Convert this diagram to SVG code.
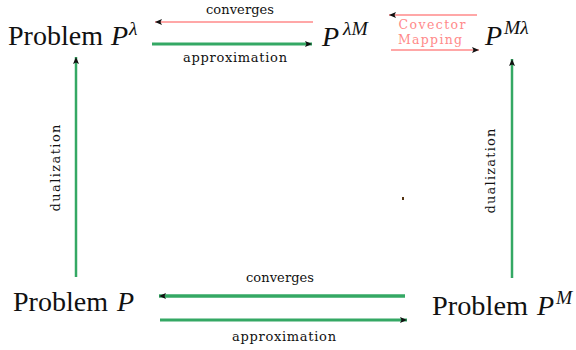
<svg xmlns="http://www.w3.org/2000/svg" width="576" height="350" viewBox="0 0 576 350">
<style>
.big{font-family:"Liberation Serif","Times New Roman",serif;font-size:27px;fill:#111}
.it{font-style:italic;font-size:28px}
.sup{font-family:"Liberation Serif","Times New Roman",serif;font-size:19.5px;font-style:italic;fill:#111}
.lbl{font-family:"DejaVu Serif",serif;font-size:13px;fill:#111;text-anchor:middle}
.pink{font-family:"DejaVu Serif",serif;font-size:12.5px;fill:#ff8a8a;text-anchor:middle}
.g{stroke:#34a864;fill:none}
.r{stroke:#ff8a8a;stroke-width:1.3;fill:none}
</style>
<defs>
<marker id="ah" markerUnits="userSpaceOnUse" markerWidth="8" markerHeight="6" refX="7" refY="3" orient="auto">
<path d="M0,0 L7,3 L0,6 L1.5,3 z" fill="#111"/>
</marker>
</defs>
<g id="connectors">
<line class="r" x1="313" y1="22" x2="155" y2="22" marker-end="url(#ah)"/>
<line class="g" stroke-width="3" x1="152" y1="44" x2="312" y2="44" marker-end="url(#ah)"/>
<line class="r" x1="477" y1="15" x2="389" y2="15" marker-end="url(#ah)"/>
<line class="r" x1="391" y1="50" x2="479" y2="50" marker-end="url(#ah)"/>
<line class="g" stroke-width="2.5" x1="76" y1="277" x2="76" y2="57" marker-end="url(#ah)"/>
<line class="g" stroke-width="2.5" x1="512" y1="278" x2="512" y2="59" marker-end="url(#ah)"/>
<line class="g" stroke-width="3.5" x1="405" y1="296" x2="159" y2="296" marker-end="url(#ah)"/>
<line class="g" stroke-width="3" x1="160" y1="320" x2="407" y2="320" marker-end="url(#ah)"/>
<text class="lbl" x="240" y="14" textLength="68" lengthAdjust="spacing">converges</text>
<text class="lbl" x="235" y="62" textLength="104" lengthAdjust="spacing">approximation</text>
<text class="lbl" x="280" y="282" textLength="68" lengthAdjust="spacing">converges</text>
<text class="lbl" x="284" y="341" textLength="104" lengthAdjust="spacing">approximation</text>
<text class="lbl" transform="translate(60,168) rotate(-90)" x="0" y="0" textLength="87" lengthAdjust="spacing">dualization</text>
<text class="lbl" transform="translate(495,171) rotate(-90)" x="0" y="0" textLength="85" lengthAdjust="spacing">dualization</text>
<text class="pink" x="432" y="29" textLength="67" lengthAdjust="spacing">Covector</text>
<text class="pink" x="430" y="44" textLength="64" lengthAdjust="spacing">Mapping</text>
</g>
<g id="node-p-lambda">
<text class="big" x="8" y="45" textLength="95" lengthAdjust="spacingAndGlyphs">Problem</text>
<text class="big it" x="111" y="45">P</text>
<text class="sup" x="129" y="35">λ</text>
</g>
<g id="node-p-lambda-m">
<text class="big it" x="322" y="46">P</text>
<text class="sup" x="343" y="35">λM</text>
</g>
<g id="node-p-m-lambda">
<text class="big it" x="485" y="45">P</text>
<text class="sup" x="504" y="34">Mλ</text>
</g>
<g id="node-p">
<text class="big" x="13" y="311" textLength="95" lengthAdjust="spacingAndGlyphs">Problem</text>
<text class="big it" x="117" y="311">P</text>
</g>
<g id="node-p-m">
<text class="big" x="432" y="315" textLength="96" lengthAdjust="spacingAndGlyphs">Problem</text>
<text class="big it" x="537" y="315">P</text>
<text class="sup" x="556" y="304">M</text>
</g>
<rect x="402" y="197" width="2" height="3" fill="#553311"/>
</svg>
